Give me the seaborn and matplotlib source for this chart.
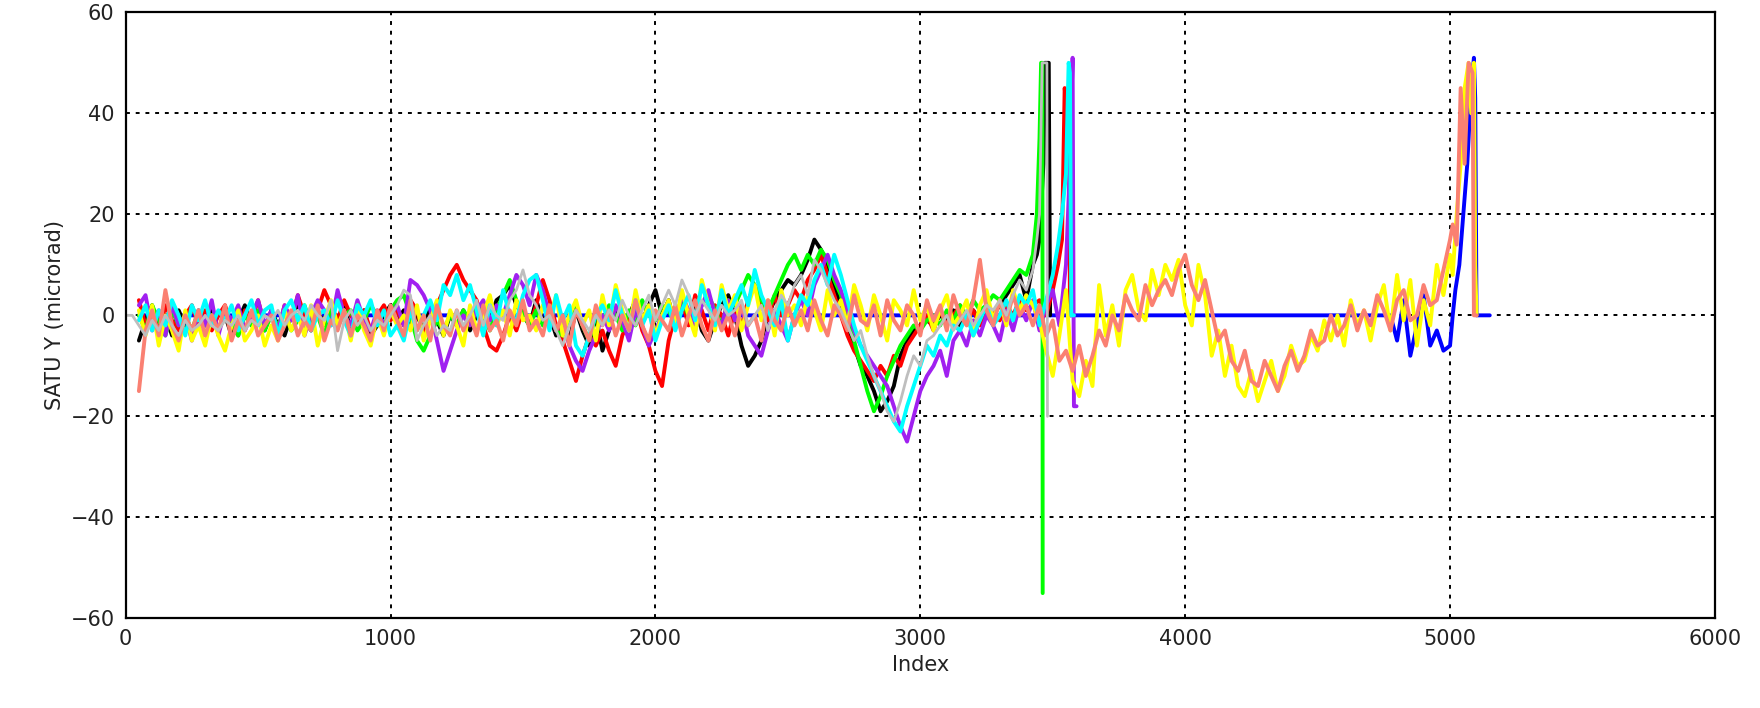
import matplotlib
matplotlib.use("Agg")
import matplotlib.pyplot as plt
import seaborn as sns
import numpy as np
import pandas as pd

# sampled every STEP index points, starting at each series' START
STEP = 25

salmon_start = 50
salmon = [-15, -3, 1, -4, 5, -2, -5, 0, -3, 1,
          -4, 0, -3, 2, -5, -1, -3, 1, -4, -2,
          0, -5, -2, 1, -4, -1, -3, 2, -5, -1,
          -3, 1, -4, 0, -2, -5, 1, -3, 2, -1,
          -4, 3, -3, 0, -5, 2, -2, -4, 1, -3,
          0, -4, 2, -3, -1, -5, 1, -2, 3, -3,
          -1, -4, 2, -3, 0, -6, 1, -2, -5, 2,
          -2, 1, -4, 0, -3, 3, -2, -5, 1, -1,
          -3, 2, -4, 0, 3, -2, -5, 1, -3, 0,
          -4, 2, -2, 0, -5, 3, -1, -3, 2, -2,
          1, -3, 3, -1, -4, 2, 0, -3, 4, -1,
          -2, 2, -4, 3, -1, -3, 2, 0, -4, 3,
          -1, 2, -3, 4, 0, -2, 3, 11, 1, -2,
          3, -1, 4, 0, 2, -2,
          2, -4, -1, -9, -7, -11, -6, -12, -8, -3,
          -6, 0, -3, 4, 1, -1, 6, 2, 5, 7,
          4, 9, 12, 6, 3, 7, 1, -5, -3, -9,
          -11, -7, -13, -14, -9, -12, -15, -10, -7, -11,
          -8, -3, -6, -5, 0, -4, -2, 2, -3, 1,
          -2, 4, 1, -3, 3, 5, -1, 0, 6, 2,
          3, 9, 15]
salmon_tail_idx = [5010, 5025, 5040, 5055, 5070, 5085, 5090, 5100]
salmon_tail = [18, 14, 45, 30, 50, 48, 0, 0]

yellow_start = 50
yellow = [1, -4, 2, -6, 0, -3, -7, 1, -5, -2,
          -6, 0, -4, -7, -2, 1, -5, -3, 0, -6,
          -2, -5, 1, -3, 0, -4, 2, -6, -1, 3,
          -2, 1, -5, 2, -3, -6, 0, -4, 1, -2,
          0, -3, 2, -5, -1, 3, -4, 1, -2, -6,
          2, -3, 0, 4, -2, 1, -4, 3, -1, 0,
          -3, 2, -1, 4, -4, 0, 3, -2, 1, -5,
          4, -2, 6, 1, -3, 5, -1, 2, -4, 0,
          3, -2, 5, 0, -4, 7, 2, -3, 6, 1,
          4, -3, 2, 6, -1, 3, -4, 5, 0, 2,
          -2, 4, 1, -3, 5, 0, 3, -2, 6, 2,
          -3, 4, 0, -5, 3, 1, -2, 5, -1, 2,
          -3, 1, 4, -2, 0, 3, -4, 2, 5, -1,
          3, -2, 5, 1, 4, 2,
          -1, -7, -12, -4, 5, -13, -16, -9, -14, 6,
          -4, 2, -6, 5, 8, 1, -1, 9, 4, 10,
          7, 11, 2, -2, 10, 4, -8, -3, -12, -6,
          -14, -16, -11, -17, -13, -9, -15, -12, -6, -10,
          -9, -4, -7, -1, -5, 0, -6, 3, -2, 1,
          -5, 2, 6, -3, 8, -1, 7, -6, 3, -2,
          10, 4, 12]
yellow_tail_idx = [5010, 5025, 5040, 5055, 5070, 5080, 5090, 5095, 5100]
yellow_tail = [8, 20, 30, 45, 50, 40, 50, 10, 0]

gray_start = 0
gray = [0, 0,
        -2, -4, -1, -3, 0, -2, -4, -1, -3, -2,
        0, -2, -3, -1, -2, 0, -3, -1, -2, 0,
        -1, 1, -2, 0, 1, -1, 2, 0, -1, 3,
        -7, -1, 1, -2, 0, -3, -1, -2, 0, 2,
        5, 4, -5, -2, 0, -4, -2, -3, 1, -2,
        0, 3, -2, 2, 0, -1, 3, 5, 9, 4,
        2, -1, 0, -3, -6, -2, 1, -1, -3, 0,
        -2, 1, -1, 3, 0, -2, 1, 4, -1, 2,
        5, 2, 7, 4, 0, 3, 1, -1, 2, 0,
        1, 3, -2, 0, 2, -3, 1, 4, 2, 6,
        8, 4, 11, 9, 6, 3, 1, -2, -5, -3,
        -8, -12, -15, -19, -21, -17, -12, -8, -10, -5,
        -4, -2, 0, -3, -1, 1, -2, 0, 2, 1,
        3, 0, 4, 7, 5, 9]
gray_tail_idx = [3440, 3450, 3460, 3470, 3478, 3480]
gray_tail = [15, 20, 50, 50, 50, -20]

black_start = 50
black = [-5, -1, 2, -3, 0, -4, 1, -2, -3, 0,
         -2, 1, -3, 0, -4, -1, 2, -2, 0, -3,
         1, -2, -4, 0, 2, -1, -3, 1, -2, 0,
         -1, 2, -3, 0, 1, -4, -2, 0, 2, -1,
         1, -2, 0, -3, 2, -1, -4, 0, -2, 1,
         -3, 0, 2, -1, 3, 4, 6, 2, 0, -2,
         3, -1, 0, -4, -2, -5, 1, -3, -6, 0,
         -7, -3, 1, -2, 0, 3, -1, 2, 5, 0,
         3, -2, 4, 0, 2, -3, -5, -1, 2, 4,
         0, -6, -10, -8, -5, 0, 3, 5, 7, 6,
         8, 11, 15, 13, 10, 6, 2, -3, -6, -10,
         -12, -15, -19, -17, -14, -8, -5, -3, -2, -1,
         -2, 0, -1, 1, -2, 0, 1, -1, 2, 0,
         2, 4, 6, 8, 3, 10]
black_tail_idx = [3440, 3450, 3460, 3465, 3470, 3485, 3490]
black_tail = [12, 15, 25, 30, 50, 50, 0]

green_start = 50
green = [0, -3, 2, -1, -4, 1, -2, 0, -3, 1,
         -2, 0, -3, 1, -1, -4, 0, -2, 1, -3,
         0, -2, 1, -3, -1, 2, -2, 0, -4, 1,
         -2, 0, 1, -3, -1, 2, 0, -2, 1, 3,
         4, 0, -5, -7, -4, -1, -3, 0, -2, 1,
         -1, 2, 0, -3, 1, 4, 7, 3, 0, -2,
         1, -2, 0, -3, -4, -1, 2, -2, -5, 0,
         -1, 2, 0, -3, 1, -2, 3, 0, -1, 2,
         1, -2, 3, 0, -1, 2, 4, 1, -2, 3,
         2, 5, 8, 6, 3, 1, 4, 7, 10, 12,
         9, 12, 10, 13, 11, 7, 4, -1, -5, -10,
         -15, -19, -16, -12, -9, -6, -4, -2, -3, -1,
         0, -2, 1, -1, 2, 0, 3, 1, 2, 4,
         3, 5, 7, 9, 8, 12]
green_tail_idx = [3440, 3450, 3456, 3461, 3462]
green_tail = [20, 35, 50, 50, -55]

red_start = 50
red = [3, -2, 1, -4, 2, -1, -3, 0, 2, -2,
       1, -3, 0, 2, -2, -4, 1, -1, 3, -2,
       0, -3, 2, -1, 4, 0, -2, 1, 5, 2,
       -1, 3, 0, -2, 1, -3, 0, 2, -1, 1,
       -2, 3, 1, -4, 0, 2, 5, 8, 10, 7,
       5, 3, -2, -6, -7, -4, 0, -3, 1, -2,
       2, 7, 3, -2, -5, -9, -13, -8, -4, -6,
       -3, -7, -10, -4, -1, 2, -3, -6, -11, -14,
       -5, 0, 3, -2, 4, 1, -3, 2, 0, -4,
       1, -2, 3, 6, 2, -1, 4, 0, 2, 5,
       3, 7, 9, 12, 8, 4, 0, -4, -7, -9,
       -11, -13, -10, -12, -8, -10, -6, -4, -2, 0,
       -3, 1, -2, 0, 2, -1, 1, -2, 0, 1,
       -1, 2, 0, 3, 1, 2]
red_tail_idx = [3450, 3475, 3500, 3520, 3535, 3545, 3555, 3562, 3565]
red_tail = [3, 0, 5, 10, 15, 45, 40, 35, 0]

cyan_start = 50
cyan = [-1, 2, -3, 1, -2, 3, 0, -4, 2, -1,
        3, -2, 1, -1, 2, -3, 0, 3, -2, 1,
        2, -4, 1, 3, -1, 2, -3, 0, 1, -2,
        3, -1, -4, 2, 0, 3, -2, 1, -4, -2,
        -5, 1, -3, 0, 3, -1, 6, 4, 8, 3,
        6, 1, -4, 2, -2, 5, 0, -1, 4, 7,
        8, 3, -3, 4, -1, 2, -6, -8, -4, 0,
        2, -1, 5, 0, -3, 3, -2, 1, -5, -1,
        2, -3, 1, 4, -1, 6, 2, -2, 5, 0,
        3, 6, 2, 9, 4, 1, -2, 3, -5, 0,
        4, 2, 7, 10, 6, 12, 8, 3, -2, -6,
        -9, -12, -15, -18, -21, -23, -18, -14, -10, -6,
        -8, -4, -6, -2, -3, 0, -4, -1, 2, -2,
        0, 3, -1, 4, 2, 5]
cyan_tail_idx = [3450, 3475, 3500, 3520, 3535, 3550, 3560, 3565, 3570, 3580]
cyan_tail = [-2, 3, 8, 14, 20, 28, 50, 48, 0, 0]

purple_start = 50
purple = [2, 4, -3, 1, -4, 2, -2, 0, -5, 1,
          -2, 3, -4, 1, -1, 2, -3, 0, 3, -2,
          1, -3, 2, -1, 4, -4, 0, 3, 1, -2,
          5, 0, -2, 3, -1, -3, 1, -2, 0, 2,
          -2, 7, 6, 4, 1, -5, -11, -7, -3, 0,
          -2, 1, 3, -1, 2, 0, 4, 8, 6, 2,
          8, 5, 0, -3, -1, -6, -9, -11, -7, -4,
          0, -3, 2, -1, -5, 1, -2, -6, -3, 0,
          2, -2, 4, 1, -3, 2, 5, 0, -2, 3,
          -1, 2, -4, -6, -8, -3, 1, -2, -5, 0,
          3, 0, 6, 9, 12, 8, 5, 1, -3, -6,
          -8, -10, -12, -14, -18, -22, -25, -20, -15, -12,
          -10, -7, -12, -5, -3, -6, -1, -4, 0, -2,
          -5, 1, -3, 2, -1, 3]
purple_tail_idx = [3450, 3475, 3500, 3525, 3550, 3565, 3575, 3580, 3590]
purple_tail = [-3, 2, 5, -2, 10, 30, 51, -18, -18]

blue_start = 4775
blue = [0, -5, 3, -8, -2, 4, -6, -3, -7, -6]
blue_head_idx = [50]
blue_head = [0]
blue_tail_idx = [5010, 5020, 5035, 5050, 5065, 5080, 5090, 5095, 5100, 5150]
blue_tail = [0, 5, 10, 20, 30, 45, 51, 43, 0, 0]

# draw order (last on top)
names = ["blue", "black", "red", "green", "purple", "yellow", "cyan", "salmon", "gray"]
colors = {"blue": "#0000ff", "black": "#000000", "red": "#ff0000", "green": "#00ff00",
          "purple": "#a020f0", "yellow": "#ffff00", "cyan": "#00ffff",
          "salmon": "#fa8072", "gray": "#bebebe"}

series = {
    "blue": (blue_start, blue, blue_tail_idx, blue_tail),
    "black": (black_start, black, black_tail_idx, black_tail),
    "red": (red_start, red, red_tail_idx, red_tail),
    "green": (green_start, green, green_tail_idx, green_tail),
    "purple": (purple_start, purple, purple_tail_idx, purple_tail),
    "yellow": (yellow_start, yellow, yellow_tail_idx, yellow_tail),
    "cyan": (cyan_start, cyan, cyan_tail_idx, cyan_tail),
    "salmon": (salmon_start, salmon, salmon_tail_idx, salmon_tail),
    "gray": (gray_start, gray, gray_tail_idx, gray_tail),
}

frames = []
for name in names:
    start, vals, tidx, tvals = series[name]
    idx = list(np.arange(start, start + STEP * len(vals), STEP)) + tidx
    v = list(vals) + tvals
    if name == "blue":
        idx = blue_head_idx + idx
        v = blue_head + v
    frames.append(pd.DataFrame({"Index": idx, "Value": v, "series": name}))
df = pd.concat(frames, ignore_index=True)

sns.set_style("white")
plt.rcParams['font.family'] = ['DejaVu Sans']

fig = plt.figure(figsize=(17.6, 7.08), dpi=100)
ax = fig.add_axes([0.0714, 0.1266, 0.903, 0.856])

sns.lineplot(data=df, x="Index", y="Value", hue="series", hue_order=names,
             palette=colors, estimator=None, sort=False, legend=False,
             linewidth=2.8, ax=ax)
# gray sits on top as a thinner trace
for line in ax.get_lines()[-1:]:
    line.set_linewidth(2.0)

ax.set_xlim(0, 6000)
ax.set_ylim(-60, 60)
ax.set_xticks([0, 1000, 2000, 3000, 4000, 5000, 6000])
ax.set_yticks([-60, -40, -20, 0, 20, 40, 60])
ax.grid(True, color="black", linestyle=(0, (2, 3)), linewidth=1.4)
ax.tick_params(length=0, labelsize=15, pad=8, colors="#222222")
for s in ax.spines.values():
    s.set_color("black")
    s.set_linewidth(1.6)
ax.set_xlabel("Index", fontsize=15, color="#222222")
ax.set_ylabel("SATU Y (microrad)", fontsize=15, color="#222222")

fig.savefig("out.png", dpi=100)
